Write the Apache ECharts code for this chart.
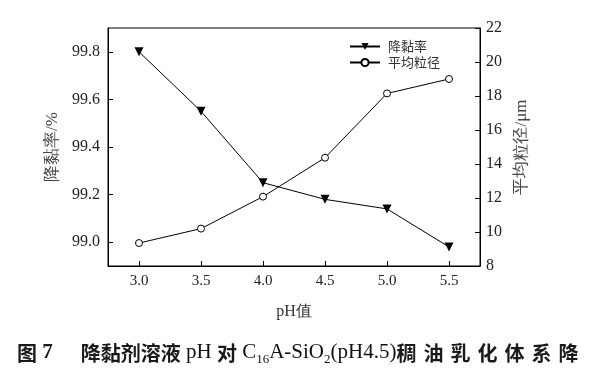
<!DOCTYPE html>
<html><head><meta charset="utf-8">
<script src="https://cdn.jsdelivr.net/npm/echarts@6/dist/echarts.min.js"></script>
<style>html,body{margin:0;padding:0;background:#fff}#c{width:607px;height:375px}</style>
</head><body><div id="c"></div>
<script>
var phValues = [3.0, 3.5, 4.0, 4.5, 5.0, 5.5];
var viscosityReduction = [99.80, 99.55, 99.25, 99.18, 99.14, 98.98];
var particleSize = [9.35, 10.2, 12.08, 14.37, 18.15, 19.0];
var xTicks = [3.0, 3.5, 4.0, 4.5, 5.0, 5.5];
var leftTicks = [99.0, 99.2, 99.4, 99.6, 99.8];
var seriesNames = ['降黏率', '平均粒径'];

var serif = '"Liberation Serif","Times New Roman",serif';
var cjk = '"Noto Sans CJK SC",sans-serif';
var chart = echarts.init(document.getElementById('c'), null, {renderer: 'canvas'});
function pairs(xs, ys){ return xs.map(function(x,i){return [x, ys[i]];}); }
var tickStyle = {show: true, inside: true, length: 5, lineStyle: {color: '#000', width: 1}};
var wide = '稠油乳化体系降'.split('').map(function(ch){return '{w|' + ch + '}';}).join('');
chart.setOption({
  animation: false,
  backgroundColor: '#fff',
  grid: {left: 108, right: 127, top: 28, bottom: 109, show: true, borderColor: '#000', borderWidth: 1, backgroundColor: 'transparent'},
  title: {
    left: 12, top: 334,
    text: '{c|图}{n| 7}{g| }{c|降黏剂溶液}{l| pH }{c|对}{l| C}{s|16}{l|A-SiO}{s|2}{l|(pH4.5)}' + wide,
    textStyle: {
      fontWeight: 'normal',
      rich: {
        c: {fontFamily: cjk, fontSize: 20, fontWeight: 'bold', color: '#1a1a1a', lineHeight: 24, verticalAlign: 'bottom'},
        w: {fontFamily: cjk, fontSize: 20, fontWeight: 'bold', color: '#1a1a1a', lineHeight: 24, verticalAlign: 'bottom', padding: [0, 7, 0, 0]},
        n: {fontFamily: serif, fontSize: 21, fontWeight: 'bold', color: '#1a1a1a', lineHeight: 24, verticalAlign: 'bottom'},
        g: {fontFamily: serif, fontSize: 21, fontWeight: 'normal', lineHeight: 24, width: 28},
        l: {fontFamily: serif, fontSize: 21, fontWeight: 'normal', color: '#111', lineHeight: 24, verticalAlign: 'bottom'},
        s: {fontFamily: serif, fontSize: 13, fontWeight: 'normal', color: '#111', lineHeight: 24, verticalAlign: 'bottom', padding: [0, 0, -3, 0]}
      }
    }
  },
  legend: {
    orient: 'vertical', left: 344, top: 35, itemGap: 3, itemWidth: 30, itemHeight: 9,
    data: seriesNames,
    textStyle: {fontFamily: cjk, fontSize: 13, color: '#333', padding: [0, 0, 0, 3]}
  },
  xAxis: {
    type: 'value', min: 2.75, max: 5.75,
    name: 'pH值', nameLocation: 'middle', nameGap: 38,
    nameTextStyle: {fontFamily: serif, fontSize: 16, color: '#333'},
    axisLine: {show: true, lineStyle: {color: '#000', width: 1}},
    axisTick: Object.assign({customValues: xTicks}, tickStyle),
    axisLabel: {customValues: xTicks, fontFamily: serif, fontSize: 15, color: '#222', margin: 8,
      formatter: function(v){return v.toFixed(1);}},
    splitLine: {show: false}
  },
  yAxis: [{
    type: 'value', min: 98.9, max: 99.9, position: 'left',
    name: '降黏率/%', nameLocation: 'middle', nameGap: 44, nameRotate: 90,
    nameTextStyle: {fontFamily: serif, fontSize: 17, color: '#444'},
    axisLine: {show: true, lineStyle: {color: '#000', width: 1}},
    axisTick: Object.assign({customValues: leftTicks}, tickStyle),
    axisLabel: {customValues: leftTicks, fontFamily: serif, fontSize: 16, color: '#222', margin: 8,
      formatter: function(v){return v.toFixed(1);}},
    splitLine: {show: false}
  }, {
    type: 'value', min: 8, max: 22, interval: 2, position: 'right',
    name: '平均粒径/μm', nameLocation: 'middle', nameGap: 28, nameRotate: 90,
    nameTextStyle: {fontFamily: serif, fontSize: 17, color: '#444'},
    axisLine: {show: true, lineStyle: {color: '#000', width: 1}},
    axisTick: tickStyle,
    axisLabel: {fontFamily: serif, fontSize: 16, color: '#222', margin: 6},
    splitLine: {show: false}
  }],
  series: [{
    name: seriesNames[0], type: 'line', yAxisIndex: 0,
    data: pairs(phValues, viscosityReduction),
    symbol: 'triangle', symbolRotate: 180, symbolSize: 9, showAllSymbol: true,
    lineStyle: {color: '#000', width: 1},
    itemStyle: {color: '#000', borderColor: '#000', borderWidth: 0}
  }, {
    name: seriesNames[1], type: 'line', yAxisIndex: 1,
    data: pairs(phValues, particleSize),
    symbol: 'circle', symbolSize: 7, showAllSymbol: true,
    lineStyle: {color: '#000', width: 1},
    itemStyle: {color: '#fff', borderColor: '#000', borderWidth: 1}
  }]
});
</script></body></html>
